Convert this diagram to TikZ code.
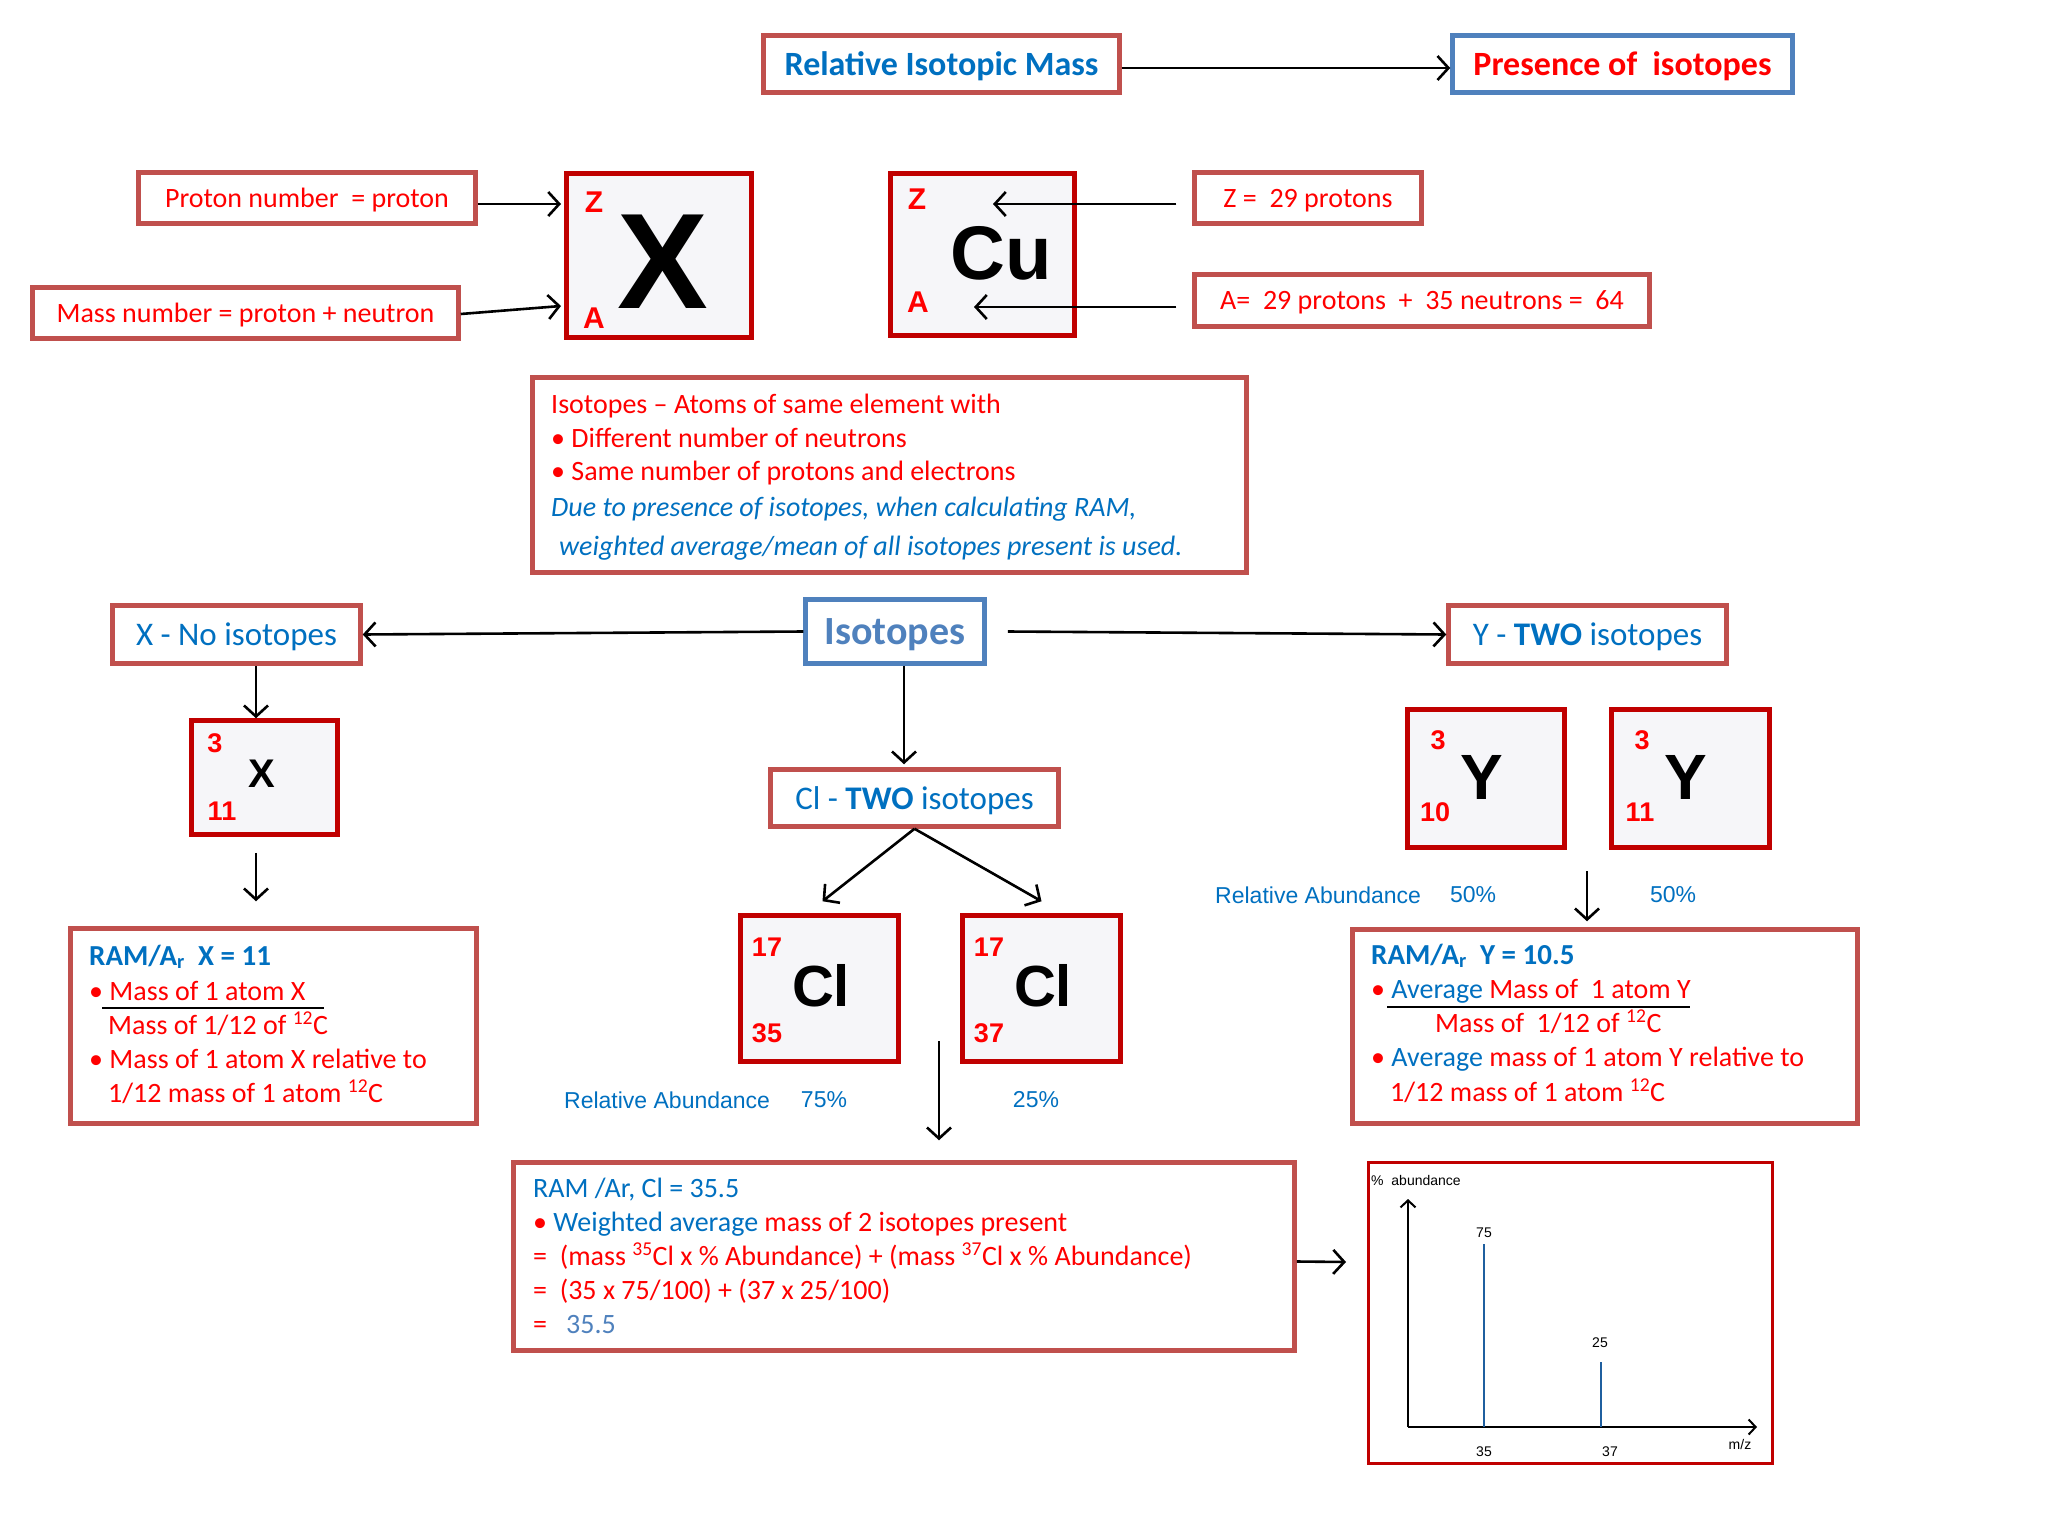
\documentclass[tikz,border=0pt]{standalone}
\usepackage{fontspec}
\setmainfont{Carlito}
\newfontfamily\arialf{Liberation Sans}
\usetikzlibrary{arrows.meta}
\definecolor{boxred}{HTML}{C0504D}
\definecolor{symred}{HTML}{C00000}
\definecolor{boxblue}{HTML}{4F81BD}
\definecolor{tblue}{HTML}{0070C0}
\definecolor{tred}{HTML}{FF0000}
\definecolor{symfill}{HTML}{F6F6F9}
\definecolor{barblue}{HTML}{1F5F9F}
\newcommand\fsz[1]{\fontsize{#1}{#1}\selectfont}
\tikzset{
 rbox/.style={draw=boxred, line width=4.5pt, fill=white, inner sep=0pt, text depth=0pt},
 bbox/.style={draw=boxblue, line width=4.5pt, fill=white, inner sep=0pt, text depth=0pt},
 sbox/.style={draw=symred, line width=4.5pt, fill=symfill, inner sep=0pt},
 cbox/.style={draw=symred, line width=3pt, fill=white, inner sep=0pt},
 arr/.style={line width=2.6pt, -{Straight Barb[length=11pt,width=24pt]}},
 txt/.style={font=\fsz{28}, inner sep=0pt, anchor=base west, text=tred},
 btxt/.style={font=\fsz{28}, inner sep=0pt, anchor=base west, text=tblue},
 sym/.style={font=\arialf\bfseries\fsz{30}, text=tred, inner sep=0pt},
 num/.style={font=\arialf\bfseries\fsz{27}, text=tred, inner sep=0pt},
 ra/.style={font=\arialf\fsz{23}, text=tblue, inner sep=0pt},
 small/.style={font=\arialf\fsz{14}, text=black, inner sep=0pt},
 ttl/.style={font=\bfseries\fsz{34}},
 lbl/.style={font=\fsz{33}, text=tblue},
}
\begin{document}
\begin{tikzpicture}[x=1pt,y=-1pt]
\useasboundingbox[fill=white] (0,0) rectangle (2048,1536);

% ---- top row
\node[rbox, ttl, text=tblue, minimum width=356pt, minimum height=57pt] (rim) at (941.5,64) {Relative Isotopic Mass};
\node[bbox, ttl, text=tred, minimum width=340pt, minimum height=57pt] (pres) at (1622.5,64) {Presence of\ \ isotopes};
\draw[arr] ([yshift=-4pt]rim.east) -- ([yshift=-4pt]pres.west);

% ---- X symbol
\node[rbox, font=\fsz{28}, text=tred, minimum width=337pt, minimum height=51pt] (proton) at (307,198) {Proton number\ \ = proton};
\node[rbox, font=\fsz{28}, text=tred, minimum width=426pt, minimum height=51pt] (mass) at (245.5,313) {Mass number = proton + neutron};
\node[sbox, minimum width=185pt, minimum height=164pt] (xbig) at (659,255.5) {};
\node[sym] (xz) at (594,202) {Z};
\node[sym] (xa) at (594,318) {A};
\node[font=\arialf\bfseries\fsz{136}, inner sep=0pt] (xX) at (663,262) {X};
\coordinate (xzin) at (561,204);
\coordinate (xain) at (561,306);
\draw[arr] (proton.east |- xzin) -- (xzin);
\draw[arr] ([yshift=-1pt]mass.east) -- (xain);

% ---- Cu symbol
\node[sbox, minimum width=184pt, minimum height=162pt] (cu) at (982.5,254.5) {};
\node[sym] (cuzl) at (917,199) {Z};
\node[sym] (cual) at (918,302) {A};
\node[font=\arialf\bfseries\fsz{76}, inner sep=0pt] (cuCu) at (1001,253) {Cu};
\node[rbox, font=\fsz{28}, text=tred, minimum width=227pt, minimum height=51pt] (z29) at (1308,198) {Z =\ \ 29 protons};
\node[rbox, font=\fsz{28}, text=tred, minimum width=455pt, minimum height=52pt] (aeq) at (1422,300.5) {A=\ \ 29 protons\ \ +\ \ 35 neutrons =\ \ 64};
\coordinate (cuz) at (993,204);
\coordinate (cua) at (974,307);
\draw[arr] ([xshift=-16pt]z29.west |- cuz) -- (cuz);
\draw[arr] ([xshift=-16pt]aeq.west |- cua) -- (cua);

% ---- isotope definition
\node[rbox, minimum width=714pt, minimum height=195pt] (isodef) at (889.5,475) {};
\node[txt] (d1) at (551,413) {Isotopes -- Atoms of same element with};
\node[txt] (d2) at (551,447) {• Different number of neutrons};
\node[txt] (d3) at (551,480) {• Same number of protons and electrons};
\node[btxt, font=\itshape\fsz{28}] (d4) at (551,516) {Due to presence of isotopes, when calculating RAM,};
\node[btxt, font=\itshape\fsz{28}] (d5) at (559,555) {weighted average/mean of all isotopes present is used.};

% ---- isotopes row
\node[bbox, font=\bfseries\fsz{40}, text=boxblue, minimum width=179pt, minimum height=64pt] (iso) at (895,631.5) {Isotopes};
\node[rbox, lbl, minimum width=248pt, minimum height=58pt] (xno) at (236.5,634.5) {X - No isotopes};
\node[rbox, lbl, minimum width=278pt, minimum height=58pt] (ytwo) at (1587.5,634.5) {Y - \textbf{TWO} isotopes};
\draw[arr] (iso.west) -- (xno.east);
\draw[arr] ([xshift=21pt]iso.east) -- (ytwo.west);

% ---- X no isotopes branch
\node[sbox, minimum width=146pt, minimum height=114pt] (xs) at (264.5,777.5) {};
\node[num] (xs3) at (215,743) {3};
\node[num] (xs11) at (222,811) {11};
\node[font=\arialf\bfseries\fsz{40}, inner sep=0pt] (xsX) at (262,774) {X};
\draw[arr] ([xshift=19.5pt]xno.south) -- ([xshift=-8.5pt]xs.north);
\node[rbox, minimum width=406pt, minimum height=195pt] (ramx) at (273.5,1026) {};
\draw[arr] ([xshift=-8.5pt,yshift=-16pt]xs.south) -- ([xshift=-17.5pt,yshift=25pt]ramx.north);
\node[btxt, font=\bfseries\fsz{29}] (rx1) at (89,965) {RAM/A\textsubscript{r}\ \ X = 11};
\node[txt] (rx2) at (89,1000) {• Mass of 1 atom X};
\node[txt] (rx3) at (108,1034) {Mass of 1/12 of \textsuperscript{12}C};
\node[txt] (rx4) at (89,1068) {• Mass of 1 atom X relative to};
\node[txt] (rx5) at (108,1102) {1/12 mass of 1 atom \textsuperscript{12}C};
\draw[line width=2pt] (102,1008) -- (324,1008);

% ---- Cl branch
\node[rbox, lbl, minimum width=288pt, minimum height=57pt] (cltwo) at (914.5,798) {Cl - \textbf{TWO} isotopes};
\draw[arr] ([xshift=9pt]iso.south) -- ([xshift=-10.5pt,yshift=3pt]cltwo.north);
\node[sbox, minimum width=158pt, minimum height=146pt] (cl35) at (819.5,988.5) {};
\node[sbox, minimum width=158pt, minimum height=146pt] (cl37) at (1041.5,988.5) {};
\draw[arr] (cltwo.south) -- ([xshift=3pt,yshift=12pt]cl35.north);
\draw[arr] (cltwo.south) -- ([yshift=12pt]cl37.north);
\node[num] (c35a) at (767,947) {17};
\node[num] (c35b) at (767,1033) {35};
\node[font=\arialf\bfseries\fsz{58}, inner sep=0pt] (c35s) at (821,986) {Cl};
\node[num] (c37a) at (989,947) {17};
\node[num] (c37b) at (989,1033) {37};
\node[font=\arialf\bfseries\fsz{58}, inner sep=0pt] (c37s) at (1043,986) {Cl};
\node[ra, anchor=west] (ra1) at (564,1100) {Relative Abundance};
\node[ra] (p75) at (824,1100) {75\%};
\node[ra] (p25) at (1036,1100) {25\%};
\coordinate (clmid) at (939,1041);
\node[rbox, minimum width=781pt, minimum height=188pt] (ramcl) at (904,1256.5) {};
\draw[arr] (clmid) -- ([xshift=35pt,yshift=20pt]ramcl.north);
\node[btxt] (rc1) at (533,1197) {RAM /Ar, Cl = 35.5};
\node[txt] (rc2) at (533,1231) {• \textcolor{tblue}{Weighted average} mass of 2 isotopes present};
\node[txt] (rc3) at (533,1265) {=\ \ (mass \textsuperscript{35}Cl x \% Abundance) + (mass \textsuperscript{37}Cl x \% Abundance)};
\node[txt] (rc4) at (533,1299) {=\ \ (35 x 75/100) + (37 x 25/100)};
\node[txt] (rc5) at (533,1333) {=\ \ \ \textcolor{boxblue}{35.5}};

% ---- Y branch
\node[sbox, minimum width=157pt, minimum height=138pt] (y10) at (1486,778.5) {};
\node[sbox, minimum width=158pt, minimum height=138pt] (y11) at (1690.5,778.5) {};
\node[num] (y10a) at (1438,740) {3};
\node[num] (y10b) at (1435,812) {10};
\node[font=\arialf\bfseries\fsz{64}, inner sep=0pt] (y10s) at (1482,777) {Y};
\node[num] (y11a) at (1642,740) {3};
\node[num] (y11b) at (1640,812) {11};
\node[font=\arialf\bfseries\fsz{64}, inner sep=0pt] (y11s) at (1686,777) {Y};
\node[ra, anchor=west] (ra2) at (1215,895) {Relative Abundance};
\node[ra] (p50a) at (1473,895) {50\%};
\node[ra] (p50b) at (1673,895) {50\%};
\coordinate (ymid) at (1587,871);
\node[rbox, minimum width=505pt, minimum height=194pt] (ramy) at (1605,1026.5) {};
\draw[arr] (ymid) -- ([xshift=-18pt,yshift=6pt]ramy.north);
\node[btxt, font=\bfseries\fsz{29}] (ry1) at (1371,964) {RAM/A\textsubscript{r}\ \ Y = 10.5};
\node[txt] (ry2) at (1371,998) {• \textcolor{tblue}{Average} Mass of\ \ 1 atom Y};
\node[txt] (ry3) at (1435,1032) {Mass of\ \ 1/12 of \textsuperscript{12}C};
\node[txt] (ry4) at (1371,1066) {• \textcolor{tblue}{Average} mass of 1 atom Y relative to};
\node[txt] (ry5) at (1390,1101) {1/12 mass of 1 atom \textsuperscript{12}C};
\draw[line width=2pt] (1387,1007) -- (1690,1007);

% ---- chart
\node[cbox, minimum width=404pt, minimum height=301pt] (chart) at (1570.5,1313) {};
\draw[arr] ([yshift=-5pt]ramcl.east) -- ([xshift=-21pt,yshift=51pt]chart.west);
\coordinate (org) at (1408,1427);
\coordinate (ytop) at (1408,1199);
\coordinate (xend) at (1757,1427);
\draw[line width=2pt, -{Straight Barb[length=7pt,width=15pt]}] (org) -- (ytop);
\draw[line width=2pt, -{Straight Barb[length=7pt,width=15pt]}] (org) -- (xend);
\draw[barblue, line width=1.6pt] (1484,1427) -- (1484,1244);
\draw[barblue, line width=1.6pt] (1601,1427) -- (1601,1362);
\node[small, anchor=west] (yl) at (1371,1180) {\%\ \ abundance};
\node[small] (l75) at (1484,1233) {75};
\node[small] (l25) at (1600,1343) {25};
\node[small] (l35) at (1484,1452) {35};
\node[small] (l37) at (1610,1452) {37};
\node[small] (lmz) at (1740,1444) {m/z};
\end{tikzpicture}
\end{document}
